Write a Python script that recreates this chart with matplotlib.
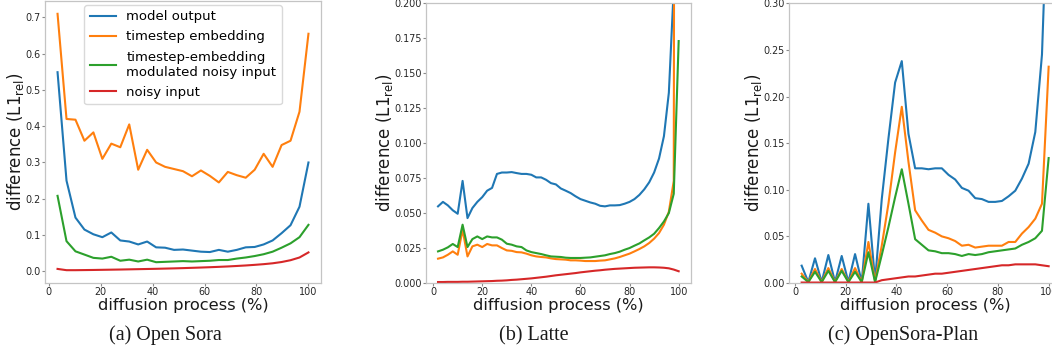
import numpy as np
import matplotlib
matplotlib.use("Agg")
import matplotlib.pyplot as plt

# --- (a) Open Sora: 29 sampled steps
steps_a = np.arange(1, 30)
a_model = [0.549, 0.25, 0.148, 0.115, 0.102, 0.094, 0.107, 0.085, 0.082, 0.074,
           0.082, 0.066, 0.065, 0.059, 0.06, 0.057, 0.054, 0.053, 0.059, 0.054,
           0.059, 0.066, 0.067, 0.074, 0.085, 0.105, 0.127, 0.178, 0.30]
a_temb = [0.71, 0.42, 0.418, 0.36, 0.383, 0.31, 0.352, 0.342, 0.405, 0.28,
          0.335, 0.30, 0.288, 0.282, 0.276, 0.262, 0.278, 0.263, 0.245, 0.274,
          0.265, 0.258, 0.28, 0.324, 0.288, 0.348, 0.36, 0.44, 0.655]
a_mod = [0.208, 0.083, 0.055, 0.046, 0.037, 0.035, 0.04, 0.029, 0.032, 0.027,
         0.032, 0.025, 0.026, 0.027, 0.028, 0.027, 0.028, 0.029, 0.031, 0.031,
         0.035, 0.038, 0.042, 0.047, 0.054, 0.065, 0.077, 0.094, 0.128]
a_noisy = [0.0065, 0.003, 0.003, 0.0033, 0.0036, 0.004, 0.0044, 0.0048, 0.0053, 0.0058,
           0.0063, 0.0068, 0.0074, 0.008, 0.0087, 0.0095, 0.0103, 0.0112, 0.0122, 0.0133,
           0.0146, 0.016, 0.0177, 0.0196, 0.022, 0.0255, 0.0305, 0.038, 0.052]

# --- (b) Latte: 50 sampled steps
steps_b = np.arange(1, 51)
b_model = [0.0548, 0.058, 0.0555, 0.052, 0.0495, 0.073, 0.0464, 0.0536, 0.058, 0.0614,
           0.066, 0.068, 0.078, 0.079, 0.079, 0.0793, 0.0786, 0.078, 0.078, 0.0774,
           0.0755, 0.0755, 0.0738, 0.0714, 0.0705, 0.0676, 0.066, 0.0643, 0.062, 0.060,
           0.0588, 0.0576, 0.0567, 0.0552, 0.0548, 0.0555, 0.0555, 0.0557, 0.0567, 0.058,
           0.060, 0.063, 0.067, 0.072, 0.079, 0.089, 0.105, 0.136, 0.211, 0.45]
b_temb = [0.0174, 0.0183, 0.0202, 0.0226, 0.0202, 0.038, 0.019, 0.0262, 0.0274, 0.0257,
          0.0279, 0.0269, 0.0269, 0.025, 0.0233, 0.023, 0.0221, 0.0219, 0.021, 0.0198,
          0.019, 0.0186, 0.0183, 0.0176, 0.0171, 0.0169, 0.0167, 0.0162, 0.0162, 0.016,
          0.0157, 0.0157, 0.0157, 0.016, 0.0162, 0.0169, 0.0176, 0.0186, 0.0198, 0.021,
          0.0226, 0.0243, 0.0262, 0.0286, 0.0317, 0.0357, 0.0417, 0.051, 0.073, 2.5]
b_mod = [0.0226, 0.0238, 0.0255, 0.0279, 0.0257, 0.0417, 0.0257, 0.0314, 0.0333, 0.0314,
         0.0333, 0.0326, 0.0326, 0.031, 0.0281, 0.0274, 0.0262, 0.0257, 0.0233, 0.0221,
         0.0214, 0.0207, 0.0198, 0.019, 0.0188, 0.0186, 0.0181, 0.0179, 0.0179, 0.0179,
         0.0181, 0.0183, 0.0188, 0.0193, 0.0198, 0.0207, 0.0214, 0.0224, 0.0238, 0.025,
         0.0267, 0.0283, 0.0305, 0.0326, 0.0352, 0.0393, 0.044, 0.05, 0.0638, 0.173]
b_noisy = [0.0007, 0.0007, 0.0008, 0.0008, 0.0008, 0.0009, 0.0009, 0.0010, 0.0011, 0.0012,
           0.0013, 0.0014, 0.0016, 0.0017, 0.0019, 0.0022, 0.0024, 0.0027, 0.0030, 0.0033,
           0.0037, 0.0041, 0.0045, 0.0050, 0.0055, 0.0059, 0.0063, 0.0067, 0.0071, 0.0076,
           0.0080, 0.0084, 0.0088, 0.0091, 0.0095, 0.0098, 0.0101, 0.0103, 0.0105, 0.0107,
           0.0109, 0.0110, 0.0111, 0.0112, 0.0112, 0.0111, 0.0109, 0.0105, 0.0096, 0.0084]

# --- (c) OpenSora-Plan: 38 sampled steps
steps_c = np.arange(1, 39)
c_model = [0.0186, 0.001, 0.0265, 0.001, 0.030, 0.001, 0.029, 0.001, 0.031, 0.001,
           0.085, 0.002, 0.09, 0.155, 0.215, 0.238, 0.16, 0.123, 0.123, 0.122,
           0.123, 0.123, 0.116, 0.111, 0.102, 0.099, 0.091, 0.09, 0.087, 0.087,
           0.088, 0.093, 0.099, 0.112, 0.128, 0.162, 0.245, 0.45]
c_temb = [0.01, 0.001, 0.015, 0.001, 0.016, 0.001, 0.015, 0.001, 0.016, 0.001,
          0.044, 0.002, 0.04, 0.085, 0.14, 0.189, 0.13, 0.078, 0.067, 0.057,
          0.054, 0.05, 0.048, 0.045, 0.04, 0.041, 0.038, 0.039, 0.04, 0.04,
          0.04, 0.044, 0.044, 0.053, 0.06, 0.069, 0.085, 0.232]
c_mod = [0.007, 0.001, 0.012, 0.001, 0.013, 0.001, 0.013, 0.001, 0.012, 0.001,
         0.033, 0.001, 0.03, 0.06, 0.092, 0.122, 0.085, 0.047, 0.041, 0.035,
         0.034, 0.032, 0.032, 0.031, 0.029, 0.031, 0.030, 0.031, 0.033, 0.034,
         0.035, 0.036, 0.037, 0.041, 0.044, 0.048, 0.056, 0.134]
c_noisy = [0.0005, 0.0005, 0.0005, 0.0005, 0.0005, 0.0005, 0.0005, 0.0005, 0.0005, 0.0005,
           0.0005, 0.0005, 0.003, 0.004, 0.005, 0.006, 0.007, 0.007, 0.008, 0.009,
           0.010, 0.010, 0.011, 0.012, 0.013, 0.014, 0.015, 0.016, 0.017, 0.018,
           0.019, 0.019, 0.020, 0.020, 0.020, 0.020, 0.019, 0.018]

labels = ["model output", "timestep embedding",
          "timestep-embedding\nmodulated noisy input", "noisy input"]
colors = ["#1f77b4", "#ff7f0e", "#2ca02c", "#d62728"]
captions = ["(a) Open Sora", "(b) Latte", "(c) OpenSora-Plan"]

W, H = 1052, 351
fig = plt.figure(figsize=(W / 100, H / 100), dpi=100)

def px_axes(x0, y0, x1, y1):
    # pixel box (top-left origin) -> figure axes
    return fig.add_axes([x0 / W, 1 - y1 / H, (x1 - x0) / W, (y1 - y0) / H])

def style(ax):
    for s in ax.spines.values():
        s.set_color("#c4c4c4")
        s.set_linewidth(0.9)
    ax.tick_params(labelsize=6.9, length=2, width=0.8, pad=1.2,
                   color="#8a8a8a", labelcolor="#262626")

panels = [
    (steps_a, 29, [a_model, a_temb, a_mod, a_noisy], (45, 1, 321, 283), None, -0.068, 165),
    (steps_b, 50, [b_model, b_temb, b_mod, b_noisy], (426, 3.3, 690.7, 283), (0, 0.2), -0.116, 534),
    (steps_c, 38, [c_model, c_temb, c_mod, c_noisy], (789.3, 3.3, 1061, 283), (0, 0.3), -0.092, 903),
]

for k, (steps, n, series, box, ylim, ylab_x, cap_x) in enumerate(panels):
    ax = px_axes(*box)
    pct = steps / n * 100
    for vals, lab, col in zip(series, labels, colors):
        ax.plot(pct, vals, color=col, lw=1.5, label=lab)
    if ylim is not None:
        ax.set_ylim(*ylim)
    ax.set_xticks([0, 20, 40, 60, 80, 100])
    style(ax)
    ax.set_ylabel(r"difference (L1$_{\mathrm{rel}}$)", fontsize=12, color="#1a1a1a")
    ax.yaxis.set_label_coords(ylab_x, 0.5)
    ax.set_xlabel("diffusion process (%)", fontsize=11.7, color="#1a1a1a")
    ax.xaxis.set_label_coords(0.5, -0.052)
    if k == 0:
        ax.legend(loc="upper center", fontsize=9.5, frameon=True,
                  edgecolor="#d0d0d0", borderaxespad=0.3, labelspacing=0.55)
    fig.text(cap_x / W, 1 - 335.5 / H, captions[k], ha="center", va="center",
             fontsize=14.5, family="Liberation Serif", color="#1a1a1a")

fig.savefig("out.png", dpi=100)
